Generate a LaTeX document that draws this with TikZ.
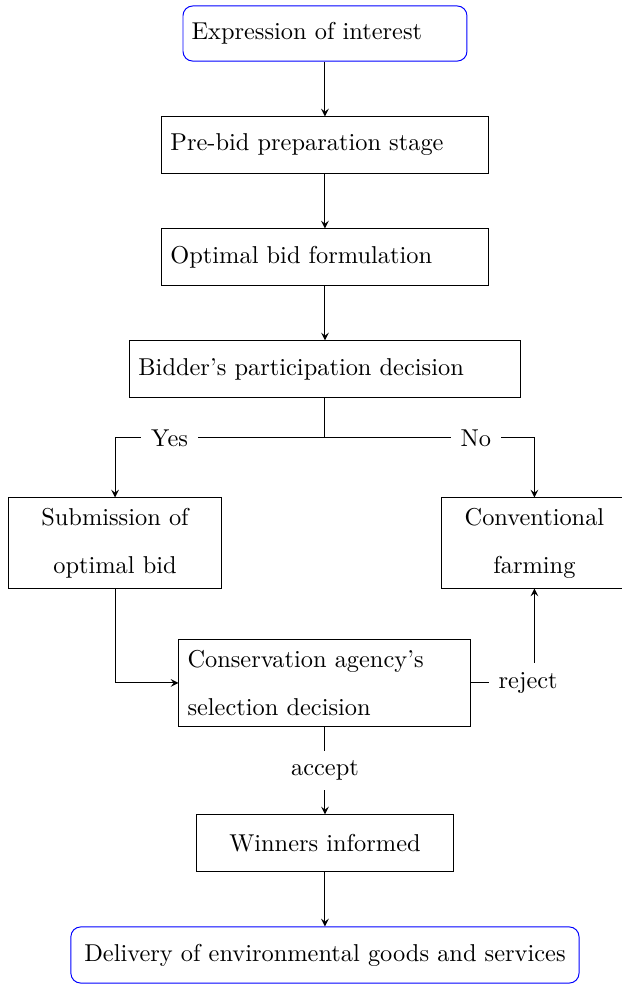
\documentclass[tikz,border=0pt]{standalone}
\begin{document}
\begin{tikzpicture}[>=stealth,
stage/.style = {draw, rectangle,
	align=left,
	minimum height=23pt,
inner sep=3.5pt},
ends/.style = {stage, draw=blue, rounded corners},
choice/.style = {draw, rectangle,
	align=center,
	minimum height=36.9pt,
inner sep=3.5pt},
tag/.style = {fill=white, inner sep=4pt}]

\useasboundingbox (0,0) rectangle (8.961,-14.177);

\node (I) at (4.682,-0.483) [ends, text width=109.4pt, minimum height=22.6pt] {Expression of interest};
\node (P) at (4.682,-2.089) [stage, text width=126.7pt] {Pre-bid preparation stage};
\node (O) at (4.682,-3.703) [stage, text width=126.7pt] {Optimal bid formulation};
\node (B) at (4.682,-5.316) [stage, text width=152.9pt] {Bidder's participation decision};
\coordinate (X) at (4.682,-6.310);
\node (S) at (1.657,-7.823) [choice, text width=80.7pt] {Submission of\\[7.7pt] optimal bid};
\node (C) at (7.700,-7.823) [choice, text width=69.3pt] {Conventional\\[7.7pt] farming};
\node (A) at (4.682,-9.840) [stage, text width=112.7pt, minimum height=35.3pt] {Conservation agency's\\[7.7pt] selection decision};
\node (W) at (4.682,-12.145) [stage, align=center, minimum width=105pt] {Winners informed};
\node (D) at (4.682,-13.759) [ends, align=center, minimum width=208.3pt] {Delivery of environmental goods and services};

\draw[->] (I) -- (P);
\draw[->] (P) -- (O);
\draw[->] (O) -- (B);
\draw[->] (B.south) -- (X) -| node[tag, pos=0.37] {Yes} (S.north);
\draw[->] (B.south) -- (X) -| node[tag, pos=0.36] {No} (C.north);
\draw[->] (S.south) |- (A.west);
\draw[->] (A.east) -| node[tag, pos=0.45] {reject} (C.south);
\draw[->] (A.south) -- node[tag] {accept} (W.north);
\draw[->] (W) -- (D);
\end{tikzpicture}
\end{document}
